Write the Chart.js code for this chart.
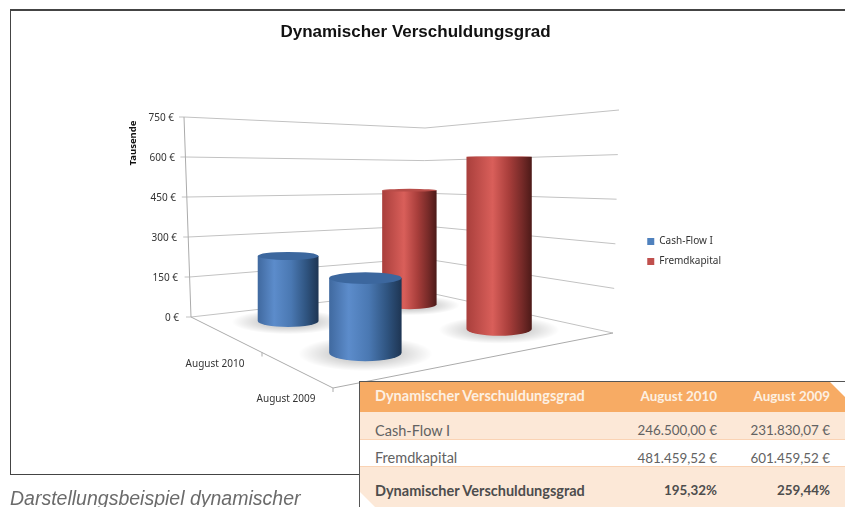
<!DOCTYPE html>
<html>
<head>
<meta charset="utf-8">
<script src="https://cdn.jsdelivr.net/npm/chart.js@4"></script>
<style>
  html, body { margin: 0; padding: 0; background: #fff; overflow: hidden; }
  body { position: relative; width: 845px; height: 507px; }
  #frame { position: absolute; left: 10px; top: 9px; width: 900px; height: 463px; border: 1.5px solid #444; border-top: 2px solid #444; background: #fff; }
  #chart { position: absolute; left: 0; top: 0; }
  #caption { position: absolute; left: 10px; top: 487px; white-space: nowrap; font: italic 19.5px "Liberation Sans", sans-serif; color: #6b6b6b; }
  #table { position: absolute; left: 359px; top: 381px; width: 486px; height: 126px; overflow: hidden; border-left: 1px solid #555; border-top: 1px solid #555; box-sizing: border-box; font-family: Lato, sans-serif; font-size: 14.5px; color: #626262; background: #fce8d7; }
  #table .row { position: absolute; left: 0; width: 100%; }
  #table span { position: absolute; white-space: nowrap; }
  #table .name { left: 15px; }
  #table .col0 { right: 128px; font-size: 13.4px; }
  #table .col1 { right: 15px; font-size: 13.4px; }
  .corner { position: absolute; width: 15px; height: 15px; background: #fff; }
</style>
</head>
<body>
<div id="frame"></div>
<canvas id="chart" width="831" height="507"></canvas>
<div id="caption">Darstellungsbeispiel dynamischer</div>
<div id="table"></div>
<script>
const months = ["August 2010", "August 2009"];
const cashFlowI = [246500.00, 231830.07];
const fremdkapital = [481459.52, 601459.52];
const verschuldungsgrad = ["195,32%", "259,44%"];
const seriesNames = ["Cash-Flow I", "Fremdkapital"];
const seriesColors = ["#4f81bd", "#c0504d"];
const yMax = 750;
const yStep = 150;
const tableTitle = "Dynamischer Verschuldungsgrad";

// Corners of the 3D box on the page: front, right, left and back of the floor
const floor = { front: [333, 388], right: [613, 333], left: [191, 317], back: [421, 291] };
const ceiling = { left: [184, 117], back: [425, 128], right: [619, 110] };
// Pixels of full axis height and cylinder width at each floor corner
const heightAt = { front: 279, right: 218, left: 184, back: 151 };
const widthAt = { front: 82, right: 67, left: 58, back: 46 };
const horizonY = 150;

const sideStops = [
  [["#40699f", 0], ["#5c8ccb", 0.27], ["#4a78b2", 0.55], ["#2f5480", 0.8], ["#1e3553", 1]],
  [["#a93f3c", 0], ["#d95f5a", 0.4], ["#a83e3b", 0.65], ["#762a28", 0.85], ["#4c1a18", 1]]
];
const topColors = ["#3c679e", "#b84d49"];

const lerp = (a, b, t) => a + (b - a) * t;
const lerpPoint = (a, b, t) => [lerp(a[0], b[0], t), lerp(a[1], b[1], t)];

// u runs along the series, w runs from the front row to the back row
function floorPoint(u, w) {
  return lerpPoint(lerpPoint(floor.front, floor.right, u), lerpPoint(floor.left, floor.back, u), w);
}
function floorValue(table, u, w) {
  return lerp(lerp(table.front, table.right, u), lerp(table.left, table.back, u), w);
}
function line(ctx, a, b) {
  ctx.beginPath();
  ctx.moveTo(a[0], a[1]);
  ctx.lineTo(b[0], b[1]);
  ctx.stroke();
}

// Works out the cylinders from the chart's own scales, back ones first
function getCylinders(chart) {
  const { x, y } = chart.scales;
  const list = [];
  chart.data.datasets.forEach((dataset, i) => {
    dataset.data.forEach((value, j) => {
      const u = (i + 0.5) / chart.data.datasets.length;
      const w = 1 - (x.getPixelForValue(j) - x.left) / x.width;
      const frac = (y.bottom - y.getPixelForValue(value)) / (y.bottom - y.top);
      const base = floorPoint(u, w);
      const baseY = base[1] - 5.5;
      const topY = baseY - frac * floorValue(heightAt, u, w);
      const rx = floorValue(widthAt, u, w) / 2;
      list.push({ series: i, cx: base[0] + 1, baseY, topY, rx,
        ryBase: rx * (baseY - horizonY) * 0.00115,
        ryTop: rx * Math.max(topY - horizonY, 4) * 0.00125 });
    });
  });
  return list.sort((a, b) => a.baseY - b.baseY);
}

function drawBox(chart) {
  const { ctx, scales: { x, y } } = chart;
  ctx.save();
  ctx.lineWidth = 1;
  ctx.strokeStyle = "#c2c2c2";
  // Gridlines over both walls and value labels on the left
  ctx.font = "10px 'Noto Sans'";
  ctx.fillStyle = "#333";
  ctx.textAlign = "right";
  ctx.textBaseline = "middle";
  y.ticks.forEach(tick => {
    const frac = (y.bottom - y.getPixelForValue(tick.value)) / (y.bottom - y.top);
    const l = lerpPoint(floor.left, ceiling.left, frac);
    const b = lerpPoint(floor.back, ceiling.back, frac);
    const r = lerpPoint(floor.right, ceiling.right, frac);
    line(ctx, l, b);
    line(ctx, b, r);
    line(ctx, [l[0] - 5, l[1]], l);
    ctx.fillText(tick.label, l[0] - lerp(12, 10, frac), l[1] + 1);
  });
  // Axis lines of the floor
  ctx.strokeStyle = "#ababab";
  line(ctx, floor.left, ceiling.left);
  line(ctx, floor.left, floor.front);
  line(ctx, floor.front, floor.right);
  line(ctx, floor.front, [floor.front[0], floor.front[1] + 4]);
  const mid = lerpPoint(floor.left, floor.front, 0.5);
  line(ctx, mid, [mid[0], mid[1] + 4]);
  // Month labels next to the depth axis
  ctx.fillStyle = "#333";
  ctx.textAlign = "center";
  months.forEach((month, j) => {
    const w = 1 - (x.getPixelForValue(j) - x.left) / x.width;
    const p = lerpPoint(floor.front, floor.left, w);
    ctx.fillText(month, p[0] - 11.5, p[1] + 29);
  });
  // Axis title
  ctx.save();
  ctx.translate(133, 143);
  ctx.rotate(-Math.PI / 2);
  ctx.font = "bold 9.5px 'Noto Sans'";
  ctx.fillStyle = "#111";
  ctx.fillText("Tausende", 0, 0);
  ctx.restore();
  ctx.restore();
}

function drawShadow(ctx, c) {
  ctx.save();
  ctx.translate(c.cx, c.baseY + 1);
  ctx.scale(c.rx * 1.85, c.ryBase * 2.05);
  const glow = ctx.createRadialGradient(0, 0, 0, 0, 0, 1);
  glow.addColorStop(0, "rgba(0,0,0,0.3)");
  glow.addColorStop(0.55, "rgba(0,0,0,0.15)");
  glow.addColorStop(1, "rgba(0,0,0,0)");
  ctx.fillStyle = glow;
  ctx.beginPath();
  ctx.arc(0, 0, 1, 0, Math.PI * 2);
  ctx.fill();
  ctx.restore();
}

function drawCylinder(ctx, c) {
  const side = ctx.createLinearGradient(c.cx - c.rx, 0, c.cx + c.rx, 0);
  sideStops[c.series].forEach(s => side.addColorStop(s[1], s[0]));
  ctx.fillStyle = side;
  ctx.beginPath();
  ctx.moveTo(c.cx - c.rx, c.topY);
  ctx.lineTo(c.cx - c.rx, c.baseY);
  ctx.ellipse(c.cx, c.baseY, c.rx, c.ryBase, 0, Math.PI, 0, true);
  ctx.lineTo(c.cx + c.rx, c.topY);
  ctx.closePath();
  ctx.fill();
  ctx.fillStyle = topColors[c.series];
  ctx.beginPath();
  ctx.ellipse(c.cx, c.topY, c.rx, c.ryTop, 0, 0, Math.PI * 2);
  ctx.fill();
}

// Replaces the flat bars with the 3D box and cylinders
const cylinderPlugin = {
  id: "cylinders",
  beforeDatasetsDraw(chart) {
    drawBox(chart);
    const cylinders = getCylinders(chart);
    cylinders.forEach(c => drawShadow(chart.ctx, c));
    cylinders.forEach(c => drawCylinder(chart.ctx, c));
  },
  beforeDatasetDraw() {
    return false;
  }
};

new Chart(document.getElementById("chart"), {
  type: "bar",
  data: {
    labels: months,
    datasets: [
      { label: seriesNames[0], data: cashFlowI.map(v => v / 1000), backgroundColor: seriesColors[0] },
      { label: seriesNames[1], data: fremdkapital.map(v => v / 1000), backgroundColor: seriesColors[1] }
    ]
  },
  plugins: [cylinderPlugin],
  options: {
    responsive: false,
    animation: false,
    layout: { padding: { left: 100, right: 100, bottom: 4 } },
    scales: {
      x: { display: false },
      y: { display: false, min: 0, max: yMax, ticks: { stepSize: yStep, callback: v => v + " €" } }
    },
    plugins: {
      tooltip: { enabled: false },
      title: {
        display: true,
        text: "Dynamischer Verschuldungsgrad",
        color: "#111",
        font: { family: "'Liberation Sans'", size: 17, weight: "bold" },
        padding: { top: 22, bottom: 6 }
      },
      legend: {
        position: "right",
        labels: {
          boxWidth: 7,
          boxHeight: 7,
          padding: 10,
          color: "#333",
          font: { family: "'Noto Sans'", size: 10 }
        }
      }
    }
  }
});

// The small table that lies over the chart
const euro = v => v.toLocaleString("de-DE", { minimumFractionDigits: 2, maximumFractionDigits: 2 }) + " €";
function addRow(top, height, lineHeight, background, style, cells) {
  const row = document.createElement("div");
  row.className = "row";
  row.style.cssText = `top:${top}px;height:${height}px;line-height:${lineHeight}px;background:${background};${style}`;
  ["name", "col0", "col1"].forEach((cls, i) => {
    const span = document.createElement("span");
    span.className = cls;
    span.textContent = cells[i];
    row.appendChild(span);
  });
  document.getElementById("table").appendChild(row);
}
addRow(0, 30, 28, "#f7ab64", "color:#fdf0e2;font-weight:bold;", [tableTitle, months[0], months[1]]);
addRow(30, 28, 37, "#fce8d7", "border-bottom:1.5px solid #fad3b4;box-sizing:border-box;", [seriesNames[0], euro(cashFlowI[0]), euro(cashFlowI[1])]);
addRow(58, 27, 36, "#ffffff", "border-bottom:1.5px solid #fad3b4;box-sizing:border-box;", [seriesNames[1], euro(fremdkapital[0]), euro(fremdkapital[1])]);
addRow(85, 41, 47, "#fce8d7", "color:#4d4d4d;font-weight:bold;", [tableTitle, verschuldungsgrad[0], verschuldungsgrad[1]]);

const table = document.getElementById("table");
const cornerRight = document.createElement("div");
cornerRight.className = "corner";
cornerRight.style.cssText = "right:0;top:0;clip-path:polygon(0 0,100% 0,100% 100%);";
table.appendChild(cornerRight);
const cornerLeft = document.createElement("div");
cornerLeft.className = "corner";
cornerLeft.style.cssText = "left:0;bottom:0;clip-path:polygon(0 0,100% 100%,0 100%);";
table.appendChild(cornerLeft);
</script>
</body>
</html>
